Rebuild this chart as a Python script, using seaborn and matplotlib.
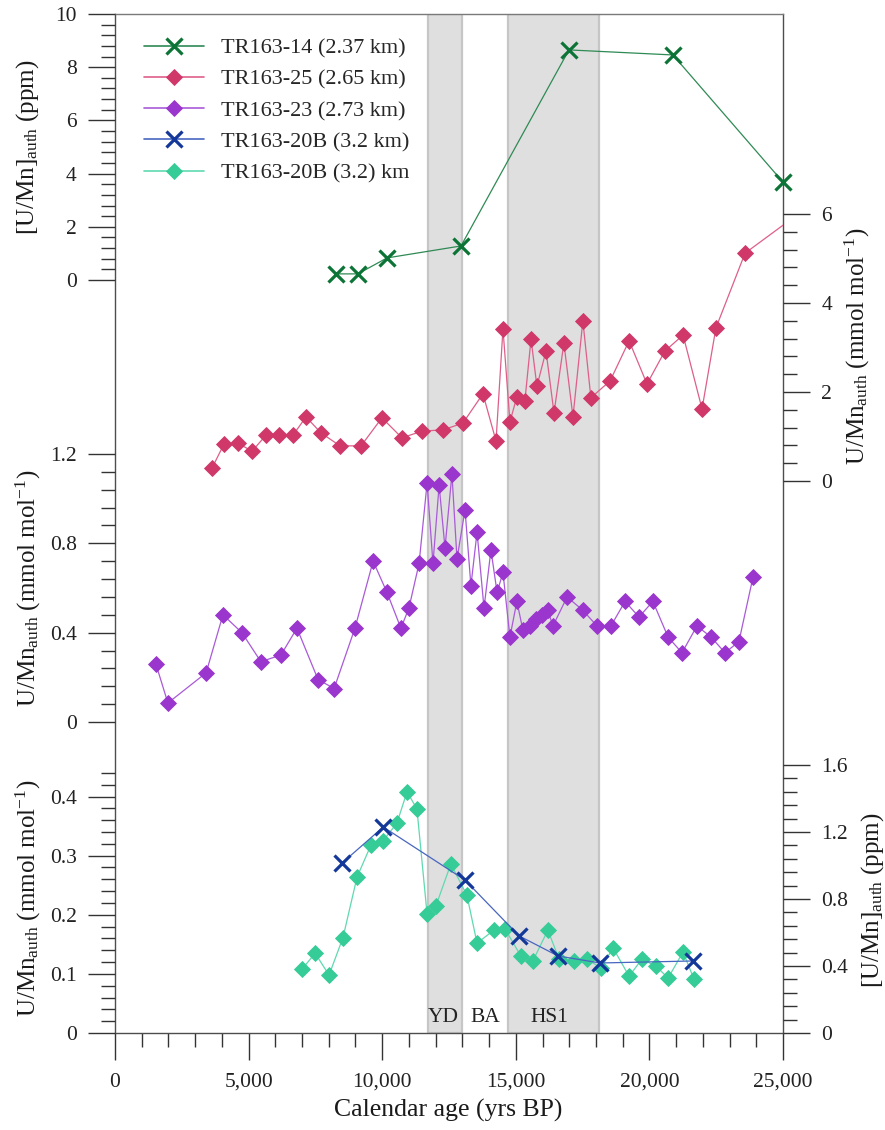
import matplotlib
matplotlib.use("Agg")
import matplotlib.pyplot as plt
from matplotlib.ticker import MultipleLocator, FuncFormatter
from matplotlib.lines import Line2D
import seaborn as sns

sns.set_style("ticks")
plt.rcParams["font.family"] = ["Liberation Serif", "DejaVu Serif"]
plt.rcParams["mathtext.fontset"] = "custom"
plt.rcParams["mathtext.rm"] = "Liberation Serif"
plt.rcParams["mathtext.it"] = "Liberation Serif:italic"
plt.rcParams["mathtext.bf"] = "Liberation Serif:bold"

# ---------------- data ----------------
# TR163-14 (2.37 km): [U/Mn]auth in ppm
age_14 = [8270, 9090, 10180, 12950, 16990, 20880, 25000]
val_14 = [0.23, 0.23, 0.83, 1.28, 8.65, 8.46, 3.68]

# TR163-25 (2.65 km): U/Mn auth in mmol/mol
age_25 = [3630, 4080, 4600, 5130, 5650, 6140, 6660, 7150, 7710, 8420,
          9210, 9990, 10740, 11490, 12280, 13020, 13770, 14260, 14520, 14780,
          15040, 15340, 15570, 15790, 16130, 16430, 16800, 17140, 17510, 17810,
          18530, 19240, 19910, 20580, 21260, 21970, 22490, 23580, 26000]
val_25 = [0.29, 0.83, 0.85, 0.67, 1.03, 1.03, 1.03, 1.44, 1.08, 0.79,
          0.79, 1.42, 0.97, 1.12, 1.15, 1.30, 1.96, 0.90, 3.42, 1.33,
          1.89, 1.80, 3.19, 2.13, 2.92, 1.53, 3.10, 1.44, 3.60, 1.87,
          2.25, 3.15, 2.18, 2.92, 3.28, 1.62, 3.44, 5.12, 6.19]

# TR163-23 (2.73 km): U/Mn auth in mmol/mol
age_23 = [1530, 1980, 3410, 4040, 4750, 5460, 6210, 6810, 7600, 8200,
          8980, 9660, 10180, 10700, 11000, 11380, 11680, 11900, 12130, 12350,
          12610, 12800, 13100, 13320, 13550, 13810, 14070, 14300, 14520, 14780,
          15040, 15270, 15530, 15760, 15980, 16200, 16390, 16920, 17510, 18040,
          18560, 19090, 19610, 20130, 20700, 21220, 21780, 22310, 22830, 23350,
          23880]
val_23 = [0.26, 0.085, 0.22, 0.48, 0.40, 0.27, 0.30, 0.42, 0.19, 0.15,
          0.42, 0.72, 0.58, 0.42, 0.51, 0.71, 1.07, 0.71, 1.06, 0.78,
          1.11, 0.73, 0.95, 0.61, 0.85, 0.51, 0.77, 0.58, 0.67, 0.38,
          0.54, 0.41, 0.43, 0.46, 0.48, 0.50, 0.43, 0.56, 0.50, 0.43,
          0.43, 0.54, 0.47, 0.54, 0.38, 0.31, 0.43, 0.38, 0.31, 0.36,
          0.65]

# TR163-20B (3.2 km): [U/Mn]auth in ppm
age_20b_ppm = [8500, 10040, 13100, 15120, 16580, 18150, 21630]
val_20b_ppm = [1.015, 1.23, 0.913, 0.58, 0.46, 0.418, 0.43]

# TR163-20B (3.2 km): U/Mn auth in mmol/mol
age_20b = [7000, 7490, 8010, 8530, 9060, 9580, 10030, 10550, 10930, 11300,
           11680, 12010, 12570, 13170, 13550, 14180, 14600, 15190, 15640, 16200,
           16620, 17180, 17660, 18190, 18640, 19240, 19720, 20250, 20700, 21260,
           21670]
val_20b = [0.108, 0.135, 0.098, 0.161, 0.264, 0.318, 0.325, 0.355, 0.408, 0.379,
           0.201, 0.215, 0.286, 0.233, 0.152, 0.174, 0.176, 0.130, 0.122, 0.174,
           0.125, 0.122, 0.125, 0.110, 0.144, 0.096, 0.125, 0.113, 0.093, 0.137,
           0.091]

# climate intervals (yrs BP)
intervals = [("YD", 11700, 13000, 12280), ("HS1", 14700, 18100, 16240)]
ba_label_age = 13850

legend_labels = ["TR163-14 (2.37 km)", "TR163-25 (2.65 km)", "TR163-23 (2.73 km)",
                 "TR163-20B (3.2 km)", "TR163-20B (3.2) km"]

# ---------------- layout ----------------
W, H = 885, 1130
fig = plt.figure(figsize=(W / 100, H / 100), dpi=100)


def box(l, t, r, b):
    return [l / W, 1 - b / H, (r - l) / W, (b - t) / H]


SPINE = "#4d4d4d"
TICK = "#333333"
MAJ_LEN, MIN_LEN = 19.5, 9.8
TICK_FS = 15.5
LABEL_FS = 18
DIAMOND_MS = 8.4
CROSS_MS = 11.5

ax0 = fig.add_axes(box(115, 14, 783, 1033))
ax0.set_xlim(0, 25000)
ax0.set_ylim(0, 1)
ax0.set_yticks([])
for sp in ax0.spines.values():
    sp.set_color(SPINE)
    sp.set_linewidth(1.0)
ax0.spines["top"].set_color("#7a7a7a")
ax0.xaxis.set_major_locator(MultipleLocator(5000))
ax0.xaxis.set_minor_locator(MultipleLocator(1000))
ax0.xaxis.set_major_formatter(FuncFormatter(lambda v, p: f"{int(round(v)):,}"))
ax0.tick_params(axis="x", which="major", direction="out", length=MAJ_LEN, width=1,
                color=TICK, labelsize=TICK_FS, pad=9, labelcolor="#222222")
ax0.tick_params(axis="x", which="minor", direction="out", length=MIN_LEN, width=1, color=TICK)

for name, a0, a1, xc in intervals:
    ax0.axvspan(a0, a1, facecolor="#dfdfdf", edgecolor="#c6c6c6", lw=1.6, zorder=0)
    ax0.text(xc, 0.0157, name, ha="center", va="center", fontsize=TICK_FS, color="#222222")
ax0.text(ba_label_age, 0.0157, "BA", ha="center", va="center", fontsize=TICK_FS, color="#222222")


def panel(rect, ylim, major, minor, side):
    ax = fig.add_axes(rect)
    ax.patch.set_visible(False)
    ax.set_xlim(0, 25000)
    for sp in ax.spines.values():
        sp.set_visible(False)
    ax.xaxis.set_visible(False)
    if side == "right":
        ax.yaxis.tick_right()
    ax.yaxis.set_major_locator(MultipleLocator(major))
    ax.yaxis.set_minor_locator(MultipleLocator(minor))
    ax.yaxis.set_major_formatter(FuncFormatter(lambda v, p: f"{round(v, 3):g}"))
    ax.tick_params(axis="y", which="major", direction="out", length=MAJ_LEN, width=1,
                   color=TICK, labelsize=TICK_FS, pad=8, labelcolor="#222222")
    ax.tick_params(axis="y", which="minor", direction="out", length=MIN_LEN, width=1, color=TICK)
    return ax, ylim


styles = {
    "14": dict(line="#2f8a55", mk="#0c7436", marker="x"),
    "25": dict(line="#de5f89", mk="#d0386a", marker="D"),
    "23": dict(line="#a95ad8", mk="#9a35cd", marker="D"),
    "20x": dict(line="#4866c0", mk="#14389a", marker="x"),
    "20d": dict(line="#5fd9b0", mk="#36cc98", marker="D"),
}


def marker_kw(st):
    if st["marker"] == "x":
        return dict(marker="x", markersize=CROSS_MS, markeredgewidth=2.3,
                    markeredgecolor=st["mk"], markerfacecolor=st["mk"])
    return dict(marker="D", markersize=DIAMOND_MS, markeredgewidth=0.6,
                markeredgecolor=st["mk"], markerfacecolor=st["mk"])


def draw(ax, x, y, key, clip=True):
    st = styles[key]
    sns.lineplot(x=x, y=y, ax=ax, color=st["line"], lw=0.9, sort=False,
                 estimator=None, **marker_kw(st))
    ln = ax.lines[-1]
    if clip:
        ln.set_clip_box(ax0.bbox)
    else:
        ln.set_clip_on(False)
    return ln


ax1, yl1 = panel(box(115, 14, 783, 280), (0, 10), 2, 0.4, "left")
ax2, yl2 = panel(box(115, 214, 783, 481), (0, 6), 2, 0.4, "right")
ax3, yl3 = panel(box(115, 454, 783, 722), (0, 1.2), 0.4, 0.08, "left")
ax4, yl4 = panel(box(115, 767, 783, 1033), (0, 0.45), 0.1, 0.02, "left")
ax5, yl5 = panel(box(115, 765, 783, 1033), (0, 1.6), 0.4, 0.08, "right")

draw(ax1, age_14, val_14, "14", clip=False)
draw(ax2, age_25, val_25, "25")
draw(ax3, age_23, val_23, "23")
draw(ax4, age_20b, val_20b, "20d")
draw(ax5, age_20b_ppm, val_20b_ppm, "20x")

for ax, yl in [(ax1, yl1), (ax2, yl2), (ax3, yl3), (ax4, yl4), (ax5, yl5)]:
    ax.set_xlim(0, 25000)
    ax.set_ylim(*yl)
    ax.set_xlabel("")
    ax.set_ylabel("")

# axis titles
ylab_kw = dict(rotation=90, ha="center", va="center", fontsize=LABEL_FS, color="#1a1a1a")
fig.text(28 / W, 1 - 147 / H, r"[U/Mn]$_{\mathrm{auth}}$ (ppm)", **ylab_kw)
fig.text(857 / W, 1 - 346 / H, r"U/Mn$_{\mathrm{auth}}$ (mmol mol$^{\mathrm{-1}}$)", **ylab_kw)
fig.text(28 / W, 1 - 588 / H, r"U/Mn$_{\mathrm{auth}}$ (mmol mol$^{\mathrm{-1}}$)", **ylab_kw)
fig.text(28 / W, 1 - 898 / H, r"U/Mn$_{\mathrm{auth}}$ (mmol mol$^{\mathrm{-1}}$)", **ylab_kw)
fig.text(873 / W, 1 - 900 / H, r"[U/Mn]$_{\mathrm{auth}}$ (ppm)", **ylab_kw)
fig.text(448 / W, 1 - 1110 / H, "Calendar age (yrs BP)", ha="center", va="center",
         fontsize=18.5, color="#1a1a1a")

# legend
handles = []
for key in ["14", "25", "23", "20x", "20d"]:
    st = styles[key]
    handles.append(Line2D([], [], color=st["line"], lw=1.2, **marker_kw(st)))
fig.legend(handles, legend_labels, loc="upper left", bbox_to_anchor=(144 / W, 1 - 38 / H),
           frameon=False, fontsize=16, handlelength=2.7, handletextpad=0.75,
           labelspacing=0.48, borderpad=0, borderaxespad=0)

fig.savefig("out.png", dpi=100)
